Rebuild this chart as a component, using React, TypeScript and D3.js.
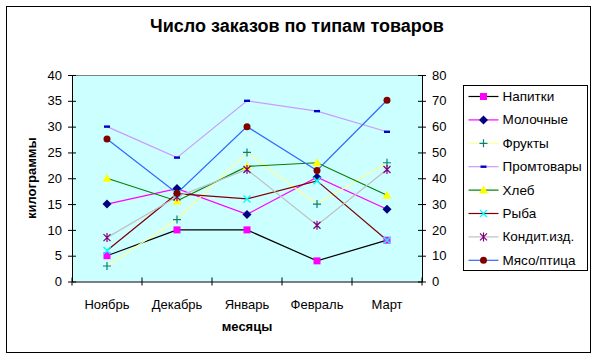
import React from "react";
import * as d3 from "d3";

// chart size
const W = 598,
  H = 359;
const margin = { left: 72, right: 176, top: 75, bottom: 77.5 };

const months = ["Ноябрь", "Декабрь", "Январь", "Февраль", "Март"];
const leftTicks = [0, 5, 10, 15, 20, 25, 30, 35, 40];
const rightTicks = [0, 10, 20, 30, 40, 50, 60, 70, 80];

// values in kg (left axis)
const napitki = [5, 10, 10, 4, 8];
const molochnye = [15, 18, 13, 20.2, 14];
const frukty = [3, 12, 25, 15, 23];
const promtovary = [30, 24, 35, 33, 29];
const hleb = [20, 15.6, 22.3, 23, 16.7];
const ryba = [6, 17, 16, 19.5, 8];
const kondit = [8.5, 16.4, 21.7, 10.9, 21.7];
const myaso = [27.6, 17.1, 30, 21.5, 35.1];

const series = [
  { name: "Напитки", values: napitki, line: "#000000", fill: "#FF00FF", marker: "square" },
  { name: "Молочные", values: molochnye, line: "#FF00FF", fill: "#000080", marker: "diamond" },
  { name: "Фрукты", values: frukty, line: "#FFFF99", fill: "#008080", marker: "plus" },
  { name: "Промтовары", values: promtovary, line: "#CC99FF", fill: "#0000CC", marker: "dash" },
  { name: "Хлеб", values: hleb, line: "#008000", fill: "#FFFF00", marker: "triangle" },
  { name: "Рыба", values: ryba, line: "#800000", fill: "#00FFFF", marker: "cross" },
  { name: "Кондит.изд.", values: kondit, line: "#C0C0C0", fill: "#800080", marker: "star" },
  { name: "Мясо/птица", values: myaso, line: "#3366FF", fill: "#800000", marker: "circle" }
];

const FONT = "'Liberation Sans', Arial, sans-serif";

// draw a marker into group g at (cx, cy)
function drawMarker(g, type, color, cx, cy) {
  const m = g.append("g").attr("transform", `translate(${cx},${cy})`);
  if (type === "square") {
    m.append("rect").attr("x", -3.5).attr("y", -3.5).attr("width", 7).attr("height", 7).attr("fill", color);
  } else if (type === "diamond") {
    m.append("path").attr("d", "M0,-4.5L4.5,0L0,4.5L-4.5,0Z").attr("fill", color);
  } else if (type === "triangle") {
    m.append("path").attr("d", "M0,-4.5L4.5,3.5L-4.5,3.5Z").attr("fill", color);
  } else if (type === "circle") {
    m.append("circle").attr("r", 3.5).attr("fill", color);
  } else if (type === "dash") {
    m.append("rect").attr("x", -3).attr("y", -1.2).attr("width", 6).attr("height", 2.4).attr("fill", color);
  } else if (type === "plus") {
    m.append("path").attr("d", "M-4,0H4M0,-4V4").attr("stroke", color).attr("stroke-width", 1.2);
  } else if (type === "cross") {
    m.append("path").attr("d", "M-3.5,-3.5L3.5,3.5M-3.5,3.5L3.5,-3.5").attr("stroke", color).attr("stroke-width", 1.4);
  } else if (type === "star") {
    m.append("path")
      .attr("d", "M-3.5,-3.5L3.5,3.5M-3.5,3.5L3.5,-3.5M0,-4.5V4.5")
      .attr("stroke", color)
      .attr("stroke-width", 1.2);
  }
}

export default class extends React.Component {
  componentDidMount() {
    const width = W - margin.left - margin.right;
    const height = H - margin.top - margin.bottom;

    const svg = d3
      .select(this._rootNode)
      .append("svg")
      .attr("width", W)
      .attr("height", H)
      .style("position", "absolute")
      .style("left", 0)
      .style("top", 0)
      .style("font-family", FONT);

    svg.append("rect").attr("width", W).attr("height", H).attr("fill", "#fff");
    // outer frame
    svg
      .append("rect")
      .attr("x", 6.5)
      .attr("y", 6.5)
      .attr("width", 584)
      .attr("height", 346)
      .attr("fill", "none")
      .attr("stroke", "#000");

    // title
    svg
      .append("text")
      .attr("x", 297)
      .attr("y", 32)
      .attr("text-anchor", "middle")
      .attr("font-size", 18)
      .attr("font-weight", "bold")
      .text("Число заказов по типам товаров");

    const g = svg.append("g").attr("transform", `translate(${margin.left}, ${margin.top})`);

    const x = d3.scaleBand().domain(months).range([0, width]);
    const y = d3.scaleLinear().domain([0, 40]).range([height, 0]);
    const y2 = d3.scaleLinear().domain([0, 80]).range([height, 0]);

    // plot area
    g.append("rect").attr("width", width).attr("height", height).attr("fill", "#CCFFFF");
    g.append("line").attr("x1", 0).attr("x2", width).attr("y1", 0.5).attr("y2", 0.5).attr("stroke", "#808080");

    const styleAxis = sel => {
      sel.select(".domain").attr("stroke", "#000");
      sel.selectAll(".tick line").attr("stroke", "#000");
      sel.selectAll(".tick text").attr("font-size", 13).attr("fill", "#000").attr("font-family", FONT);
    };

    // left axis, ticks crossing
    const yAxis = g
      .append("g")
      .call(d3.axisLeft(y).tickValues(leftTicks).tickSize(4).tickSizeOuter(0).tickPadding(6))
      .call(styleAxis);
    yAxis.selectAll(".tick line").attr("x2", 4).attr("x1", -4);

    // right axis
    const y2Axis = g
      .append("g")
      .attr("transform", `translate(${width},0)`)
      .call(d3.axisRight(y2).tickValues(rightTicks).tickSize(4).tickSizeOuter(0).tickPadding(6))
      .call(styleAxis);
    y2Axis.selectAll(".tick line").attr("x1", -4).attr("x2", 4);

    // bottom axis: ticks at category boundaries
    const xAxis = g
      .append("g")
      .attr("transform", `translate(0, ${height})`)
      .call(d3.axisBottom(x).tickSize(0).tickSizeOuter(0).tickPadding(18))
      .call(styleAxis);
    const bounds = d3.range(months.length + 1).map(i => i * x.bandwidth());
    xAxis
      .selectAll(".bound")
      .data(bounds)
      .enter()
      .append("line")
      .attr("x1", d => d)
      .attr("x2", d => d)
      .attr("y1", -4)
      .attr("y2", 4)
      .attr("stroke", "#000");

    // axis titles
    svg
      .append("text")
      .attr("x", margin.left + width / 2)
      .attr("y", 331)
      .attr("text-anchor", "middle")
      .attr("font-size", 13)
      .attr("font-weight", "bold")
      .text("месяцы");
    svg
      .append("text")
      .attr("transform", `translate(36, ${margin.top + height / 2}) rotate(-90)`)
      .attr("text-anchor", "middle")
      .attr("font-size", 13)
      .attr("font-weight", "bold")
      .text("килограммы");

    // lines
    const cx = m => x(m) + x.bandwidth() / 2;
    const line = d3
      .line()
      .x((d, i) => cx(months[i]))
      .y(d => y(d));

    series.forEach(s => {
      g.append("path")
        .attr("d", line(s.values))
        .attr("fill", "none")
        .attr("stroke", s.line)
        .attr("stroke-width", 1.2);
    });
    series.forEach(s => {
      s.values.forEach((v, i) => drawMarker(g, s.marker, s.fill, cx(months[i]), y(v)));
    });

    // legend
    const legend = svg.append("g").attr("transform", "translate(463.5, 85.5)");
    legend
      .append("rect")
      .attr("width", 124)
      .attr("height", 185)
      .attr("fill", "#fff")
      .attr("stroke", "#000");
    series.forEach((s, i) => {
      const ly = 11 + i * 23.4;
      const item = legend.append("g");
      item
        .append("line")
        .attr("x1", 5)
        .attr("x2", 35)
        .attr("y1", ly)
        .attr("y2", ly)
        .attr("stroke", s.line)
        .attr("stroke-width", 1.2);
      drawMarker(item, s.marker, s.fill, 20, ly);
      item
        .append("text")
        .attr("x", 39)
        .attr("y", ly + 4.5)
        .attr("font-size", 13.5)
        .text(s.name);
    });
  }
  shouldComponentUpdate() {
    return false;
  }
  _setRef = node => {
    this._rootNode = node;
  };
  render() {
    return <div ref={this._setRef} />;
  }
}
